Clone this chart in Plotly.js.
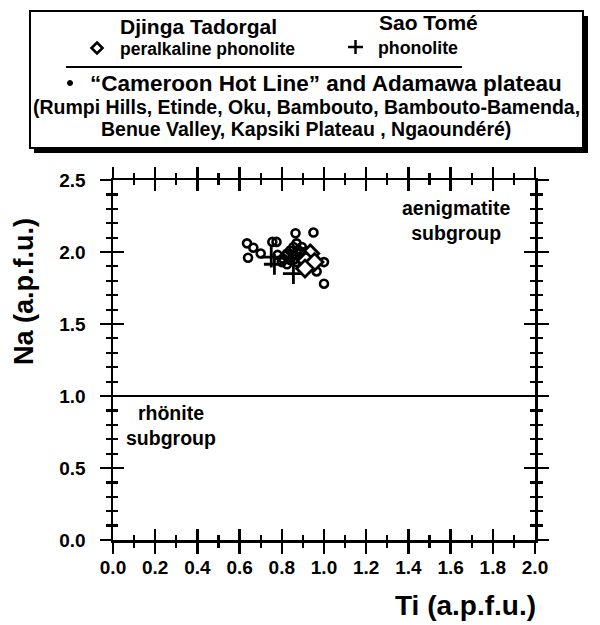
<!DOCTYPE html>
<html>
<head>
<meta charset="utf-8">
<script src="https://cdn.plot.ly/plotly-3.0.1.min.js"></script>
<style>html,body{margin:0;padding:0;background:#fff;}#chart{width:600px;height:625px;}</style>
</head>
<body>
<div id="chart"></div>
<script>
// "Cameroon Hot Line" and Adamawa plateau (circles)
const chlTi = [0.635,0.665,0.64,0.70,0.755,0.775,0.78,0.80,0.825,0.865,0.95,1.0,1.0,0.965,0.87,0.855,0.84,0.88,0.895,0.825,0.86,0.885,0.805,0.84,0.87,0.90,0.82,0.86,0.89,0.91,0.93];
const chlNa = [2.06,2.03,1.96,1.99,2.07,2.07,1.98,1.93,1.915,2.13,2.135,1.93,1.78,1.865,2.06,2.035,2.01,2.01,2.035,1.99,1.98,1.965,1.955,1.945,1.93,1.93,1.975,1.95,2.0,2.0,1.90];
// Sao Tomé phonolite (plus)
const saoTi = [0.75,0.765,0.855];
const saoNa = [1.965,1.915,1.85];
// Djinga Tadorgal peralkaline phonolite (diamonds)
const djTi = [0.935,0.915,0.955,0.91];
const djNa = [1.99,1.94,1.93,1.885];
const subgroupBoundary = 1.0;
const xRange = [0, 2];
const yRange = [0, 2.5];

const FONT = 'Liberation Sans, Arial, Helvetica, sans-serif';
const L = 113, T = 180, W = 422, H = 360;
const px = v => (v - L) / W;
const py = v => (T + H - v) / H;

const traces = [
  {x: chlTi, y: chlNa, mode: 'markers', type: 'scatter', showlegend: false,
   marker: {symbol: 'circle-open', size: 8, color: 'black', line: {width: 2.6, color: 'black'}}},
  {x: saoTi, y: saoNa, mode: 'markers', type: 'scatter', showlegend: false,
   marker: {symbol: 'cross-thin-open', size: 15, color: 'black', line: {width: 2.8, color: 'black'}}},
  {x: djTi, y: djNa, mode: 'markers', type: 'scatter', showlegend: false,
   marker: {symbol: 'diamond', size: 13, color: 'white', line: {width: 2.8, color: 'black'}}},
  {x: [null], y: [null], xaxis: 'x2', yaxis: 'y', type: 'scatter', mode: 'markers', showlegend: false, hoverinfo: 'skip'},
  {x: [null], y: [null], xaxis: 'x', yaxis: 'y2', type: 'scatter', mode: 'markers', showlegend: false, hoverinfo: 'skip'}
];

const tickFont = {family: FONT, size: 19, color: 'black', weight: 700};
const baseAxis = {
  showgrid: false, zeroline: false, showline: true, linecolor: 'black', linewidth: 2.5,
  mirror: 'ticks', tickcolor: 'black', tickwidth: 2.5, ticklen: 11, fixedrange: true
};

const layout = {
  width: 600, height: 625,
  margin: {l: L, r: 600 - L - W, t: T, b: 625 - T - H},
  paper_bgcolor: 'white', plot_bgcolor: 'white',
  showlegend: false,
  xaxis: Object.assign({}, baseAxis, {
    range: xRange, tick0: 0, dtick: 0.2, ticks: 'outside', tickformat: '.1f',
    tickfont: tickFont, ticklabelstandoff: -2,
    minor: {dtick: 0.1, ticks: 'outside', ticklen: 5, tickwidth: 2.2, tickcolor: 'black', showgrid: false}
  }),
  xaxis2: Object.assign({}, baseAxis, {
    overlaying: 'x', anchor: 'y', range: xRange, tick0: 0, dtick: 0.2, ticks: 'inside',
    showticklabels: false, showline: false,
    minor: {dtick: 0.1, ticks: 'inside', ticklen: 5, tickwidth: 2.2, tickcolor: 'black', showgrid: false}
  }),
  yaxis: Object.assign({}, baseAxis, {
    range: yRange, tick0: 0, dtick: 0.5, ticks: 'outside', tickformat: '.1f',
    tickfont: tickFont, ticklabelstandoff: 10,
    minor: {dtick: 0.1, ticks: 'outside', ticklen: 5, tickwidth: 2.2, tickcolor: 'black', showgrid: false}
  }),
  yaxis2: Object.assign({}, baseAxis, {
    overlaying: 'y', anchor: 'x', range: yRange, tick0: 0, dtick: 0.5, ticks: 'inside',
    showticklabels: false, showline: false,
    minor: {dtick: 0.1, ticks: 'inside', ticklen: 5, tickwidth: 2.2, tickcolor: 'black', showgrid: false}
  }),
  shapes: [
    {type: 'line', xref: 'x', yref: 'y', x0: xRange[0], x1: xRange[1], y0: subgroupBoundary, y1: subgroupBoundary,
     line: {color: 'black', width: 2.2}},
    // legend box shadow and box
    {type: 'rect', xref: 'paper', yref: 'paper', x0: px(34), x1: px(588), y0: py(153), y1: py(16),
     fillcolor: 'black', line: {width: 0}},
    {type: 'rect', xref: 'paper', yref: 'paper', x0: px(30), x1: px(583), y0: py(148), y1: py(11),
     fillcolor: 'white', line: {color: 'black', width: 2}},
    // separator
    {type: 'line', xref: 'paper', yref: 'paper', x0: px(66), x1: px(462), y0: py(67), y1: py(67),
     line: {color: 'black', width: 2}},
    // diamond symbol
    {type: 'path', xref: 'paper', yref: 'paper',
     path: `M ${px(97)} ${py(42.5)} L ${px(102.5)} ${py(48)} L ${px(97)} ${py(53.5)} L ${px(91.5)} ${py(48)} Z`,
     fillcolor: 'white', line: {color: 'black', width: 2.6}},
    // plus symbol
    {type: 'line', xref: 'paper', yref: 'paper', x0: px(348), x1: px(363), y0: py(47), y1: py(47),
     line: {color: 'black', width: 2.5}},
    {type: 'line', xref: 'paper', yref: 'paper', x0: px(355.5), x1: px(355.5), y0: py(40), y1: py(54),
     line: {color: 'black', width: 2.5}},
    // bullet
    {type: 'circle', xref: 'paper', yref: 'paper', x0: px(67.5), x1: px(72.5), y0: py(80.5), y1: py(85.5),
     fillcolor: 'black', line: {color: 'black', width: 1}}
  ],
  annotations: [
    {text: 'Djinga Tadorgal', x: px(118), y: py(27), xref: 'paper', yref: 'paper', showarrow: false,
     xanchor: 'left', yanchor: 'middle', font: {family: FONT, size: 21, weight: 700, color: 'black'}},
    {text: 'peralkaline phonolite', x: px(118), y: py(49.5), xref: 'paper', yref: 'paper', showarrow: false,
     xanchor: 'left', yanchor: 'middle', font: {family: FONT, size: 17.5, weight: 700, color: 'black'}},
    {text: 'Sao Tomé', x: px(377), y: py(22), xref: 'paper', yref: 'paper', showarrow: false,
     xanchor: 'left', yanchor: 'middle', font: {family: FONT, size: 21, weight: 700, color: 'black'}},
    {text: 'phonolite', x: px(376), y: py(47.5), xref: 'paper', yref: 'paper', showarrow: false,
     xanchor: 'left', yanchor: 'middle', font: {family: FONT, size: 17.8, weight: 700, color: 'black'}},
    {text: '“Cameroon Hot Line” and Adamawa plateau', x: px(88), y: py(83), xref: 'paper', yref: 'paper', showarrow: false,
     xanchor: 'left', yanchor: 'middle', font: {family: FONT, size: 22.5, weight: 700, color: 'black'}},
    {text: '(Rumpi Hills, Etinde, Oku, Bambouto, Bambouto-Bamenda,', x: px(306), y: py(107), xref: 'paper', yref: 'paper', showarrow: false,
     xanchor: 'center', yanchor: 'middle', font: {family: FONT, size: 19.5, weight: 700, color: 'black'}},
    {text: 'Benue Valley, Kapsiki Plateau , Ngaoundéré)', x: px(306), y: py(129), xref: 'paper', yref: 'paper', showarrow: false,
     xanchor: 'center', yanchor: 'middle', font: {family: FONT, size: 19.5, weight: 700, color: 'black'}},
    {text: 'aenigmatite<br>subgroup', x: px(456), y: py(220), xref: 'paper', yref: 'paper', showarrow: false,
     xanchor: 'center', yanchor: 'middle', font: {family: FONT, size: 19.5, weight: 700, color: 'black'}},
    {text: 'rhönite<br>subgroup', x: px(171), y: py(425), xref: 'paper', yref: 'paper', showarrow: false,
     xanchor: 'center', yanchor: 'middle', font: {family: FONT, size: 19.5, weight: 700, color: 'black'}},
    {text: 'Na (a.p.f.u.)', x: px(24), y: py(292), xref: 'paper', yref: 'paper', showarrow: false, textangle: -90,
     xanchor: 'center', yanchor: 'middle', font: {family: FONT, size: 27, weight: 700, color: 'black'}},
    {text: 'Ti (a.p.f.u.)', x: px(465), y: py(605), xref: 'paper', yref: 'paper', showarrow: false,
     xanchor: 'center', yanchor: 'middle', font: {family: FONT, size: 28, weight: 700, color: 'black'}}
  ]
};

Plotly.newPlot('chart', traces, layout, {displayModeBar: false, staticPlot: true});
</script>
</body>
</html>
